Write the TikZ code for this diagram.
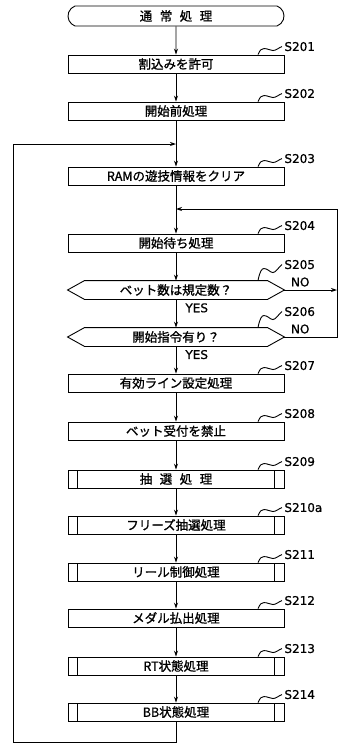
\documentclass[tikz,border=0pt]{standalone}
\usepackage{fontspec}
\setmainfont{Noto Sans CJK JP}[FakeBold=1.2]
\newfontfamily\stepfont{DejaVu Sans}[FakeBold=0.8]
\usetikzlibrary{calc,arrows.meta,shapes.misc}
\newcommand\jsp{\hspace{.6em}}
\def\stepmark[#1](#2)#3{\draw[shift={($(#2.north)+(82,0)$)},yscale=#1] (0,0) .. controls (2,-5) and (4,-6) .. (6,-6) .. controls (10,-6) and (12,-4) .. (15,-4) .. controls (18,-4) and (21,-7) .. (24,-8) node[steptag,right=1pt] {#3};}
\def\decision(#1){\draw (#1.west) -- ([xshift=17pt]#1.north west) -- ([xshift=-17pt]#1.north east) -- (#1.east) -- ([xshift=-17pt]#1.south east) -- ([xshift=17pt]#1.south west) -- cycle;}

\begin{document}
\begin{tikzpicture}[x=1pt,y=-1pt,line width=0.9pt,
  >={Stealth[length=6pt,width=4pt]},
  box/.style={draw,minimum width=216pt,minimum height=18pt,inner sep=0pt,font=\fontsize{12.5}{14}\selectfont},
  start/.style={box,rounded rectangle,rounded rectangle arc length=140,minimum height=20pt},
  proc/.style={box,rectangle},
  subproc/.style={proc,path picture={
    \draw ([xshift=9pt]path picture bounding box.north west) -- ([xshift=9pt]path picture bounding box.south west);
    \draw ([xshift=-10pt]path picture bounding box.north east) -- ([xshift=-10pt]path picture bounding box.south east);}},
  decide/.style={box,draw=none},
  steptag/.style={font=\stepfont\fontsize{12}{14}\selectfont,inner sep=1pt}]
			%%%%% START %%%%%
			\useasboundingbox (0,0) rectangle (339,744);
			
			\node[start] (s200) at (176,16) {通\jsp 常\jsp 処\jsp 理};
			\node[proc] (s201) at (176,64) {割込みを許可};
			\node[proc] (s202) at (176,111) {開始前処理};
			\node[proc] (s203) at (176,176) {RAMの遊技情報をクリア};
			\node[proc] (s204) at (176,243) {開始待ち処理};
			\node[decide] (s205) at (176,290) {ベット数は規定数？};
			\node[decide] (s206) at (176,337) {開始指令有り？};
			\node[proc] (s207) at (176,383) {有効ライン設定処理};
			\node[proc] (s208) at (176,431) {ベット受付を禁止};
			\node[subproc] (s209) at (176,479) {抽\jsp 選\jsp 処\jsp 理};
			\node[subproc] (s210a) at (176,525) {フリーズ抽選処理};
			\node[subproc] (s211) at (176,572) {リール制御処理};
			\node[proc] (s212) at (176,618) {メダル払出処理};
			\node[subproc] (s213) at (176,666) {RT状態処理};
			\node[subproc] (s214) at (176,712) {BB状態処理};
			
			\decision(s205)
			\decision(s206)
			
			\stepmark[1](s201){S201}
			\stepmark[1](s202){S202}
			\stepmark[1](s203){S203}
			\stepmark[1](s204){S204}
			\stepmark[2](s205){S205}
			\stepmark[2](s206){S206}
			\stepmark[1](s207){S207}
			\stepmark[1](s208){S208}
			\stepmark[1](s209){S209}
			\stepmark[1](s210a){S210a}
			\stepmark[1](s211){S211}
			\stepmark[1](s212){S212}
			\stepmark[1](s213){S213}
			\stepmark[1](s214){S214}
			
			\coordinate (back) at (13,742);
			\coordinate (restart) at (176,144);
			\coordinate (rtop) at (337,209);
			\coordinate (rejoin) at (176,209);
			
			\draw[->] (s200) -- (s201);
			\draw[->] (s201) -- (s202);
			\draw[->] (s202) -- (s203);
			\draw[->] (s203) -- (s204);
			\draw[->] (s204) -- (s205);
			\draw[->] (s205) -- node[steptag,right=8pt,pos=0.3] {YES} (s206);
			\draw[->] (s206) -- node[steptag,right=8pt,pos=0.3] {YES} (s207);
			\draw[->] (s207) -- (s208);
			\draw[->] (s208) -- (s209);
			\draw[->] (s209) -- (s210a);
			\draw[->] (s210a) -- (s211);
			\draw[->] (s211) -- (s212);
			\draw[->] (s212) -- (s213);
			\draw[->] (s213) -- (s214);
			
			\draw[->] (s205.east) -- node[steptag,above=2pt,pos=0.3] {NO} (s205.east -| rtop);
			\draw[->] (s206.east) -| node[steptag,above=2pt,pos=0.15] {NO} (rtop) -- (rejoin);
			\draw[->] (s214.south) |- (back) |- (restart);
			%%%%% END %%%%%
\end{tikzpicture}
\end{document}
